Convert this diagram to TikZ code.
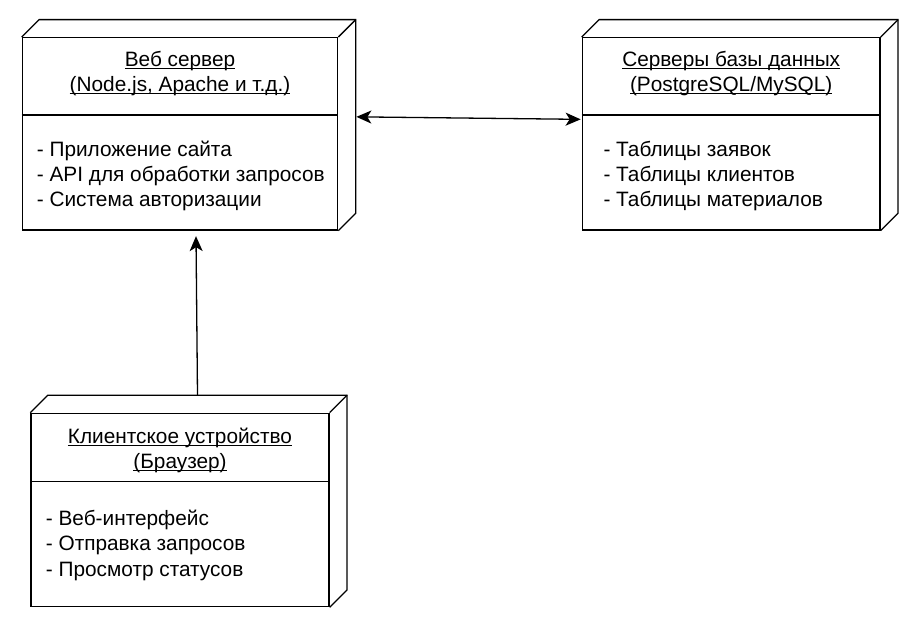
\documentclass[tikz,border=0pt]{standalone}
\usepackage{fontspec}
\setmainfont{Liberation Sans}
\usetikzlibrary{arrows.meta}
\newcommand\myul[1]{\setbox0\hbox{#1}\rlap{\rule[-2.8pt]{\wd0}{1.3pt}}\box0}
\tikzset{
  face/.style={draw, line width=1.3pt, fill=white, inner sep=0pt},
  edge/.style={line width=1.3pt},
  txt/.style={font=\fontsize{20.8}{25}\selectfont, inner sep=0pt},
  ttl/.style={txt, anchor=base},
  itm/.style={txt, anchor=base west},
  arr/.style={line width=1.3pt, -{Stealth[length=15pt,width=13pt,inset=4pt]}},
  darr/.style={line width=1.3pt, {Stealth[length=15pt,width=13pt,inset=4pt]}-{Stealth[length=15pt,width=13pt,inset=4pt]}},
}
\begin{document}
\begin{tikzpicture}[x=1pt,y=-1pt]
\useasboundingbox (0,0) rectangle (905,617);
% front faces
\node[face, minimum width=315.4pt, minimum height=192.3pt] (web) at (180,133.85) {};
\node[face, minimum width=297.7pt, minimum height=192.3pt] (db) at (731.15,133.85) {};
\node[face, minimum width=298pt, minimum height=193.4pt] (cli) at (180,510) {};
% extrusions
\foreach \n in {web,db,cli}{
  \draw[edge, line join=miter] (\n.north west) -- ++(17.4pt,17.4pt)
     -- ([shift={(17.4pt,17.4pt)}]\n.north east)
     -- ([shift={(17.4pt,17.4pt)}]\n.south east) -- (\n.south east);
  \draw[edge] (\n.north east) -- ++(17.4pt,17.4pt);
}
% dividers
\draw[edge] ([yshift=-78pt]web.north west) -- ([yshift=-78pt]web.north east);
\draw[edge] ([yshift=-78pt]db.north west) -- ([yshift=-78pt]db.north east);
\draw[edge] ([yshift=-69pt]cli.north west) -- ([yshift=-69pt]cli.north east);
% web server texts
\node[ttl] (wt1) at (180,66.7) {\myul{Веб сервер}};
\node[ttl] (wt2) at (180,91.7) {\myul{(Node.js, Apache и т.д.)}};
\node[itm] (wi1) at (36.7,156.7) {- Приложение сайта};
\node[itm] (wi2) at (36.7,181.7) {- API для обработки запросов};
\node[itm] (wi3) at (36.7,206.7) {- Система авторизации};
% db texts
\node[ttl] (dt1) at (731.2,66.7) {\myul{Серверы базы данных}};
\node[ttl] (dt2) at (731.2,91.7) {\myul{(PostgreSQL/MySQL)}};
\node[itm] (di1) at (603.3,156.7) {- Таблицы заявок};
\node[itm] (di2) at (603.3,181.7) {- Таблицы клиентов};
\node[itm] (di3) at (603.3,206.7) {- Таблицы материалов};
% client texts
\node[ttl] (ct1) at (180,443) {\myul{Клиентское устройство}};
\node[ttl] (ct2) at (180,468.5) {\myul{(Браузер)}};
\node[itm] (ci1) at (45.7,525.7) {- Веб-интерфейс};
\node[itm] (ci2) at (45.7,550.7) {- Отправка запросов};
\node[itm] (ci3) at (45.7,576) {- Просмотр статусов};
% connectors
\coordinate (cliTop) at ([shift={(17.5pt,17.3pt)}]cli.north);
\draw[arr] (cliTop) -- ([shift={(16pt,-5.5pt)}]web.south);
\draw[darr] ([shift={(18pt,17pt)}]web.east) -- ([shift={(-1pt,14.5pt)}]db.west);
\end{tikzpicture}
\end{document}
